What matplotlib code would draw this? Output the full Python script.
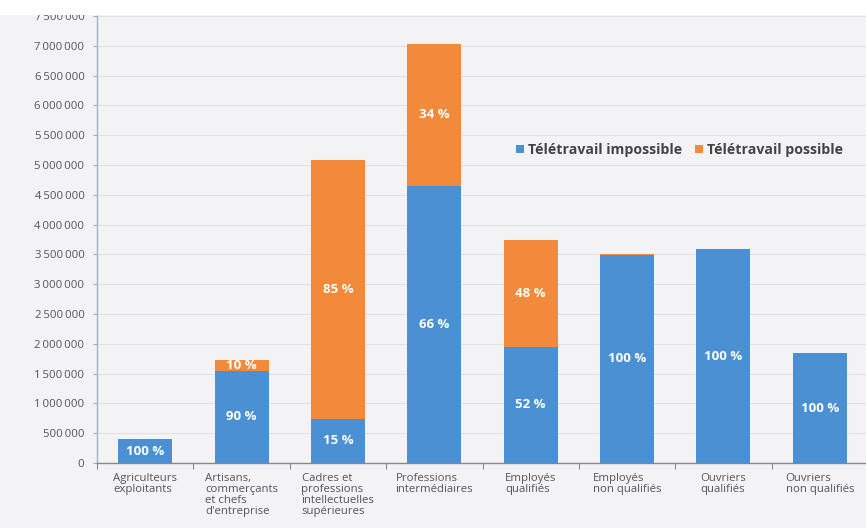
import matplotlib
matplotlib.use("Agg")
import matplotlib.pyplot as plt
from matplotlib.ticker import FuncFormatter
from matplotlib.patches import Rectangle
import numpy as np

plt.rcParams['font.family'] = ['Open Sans', 'DejaVu Sans']

categories = ["Agriculteurs\nexploitants",
              "Artisans,\ncommerçants\net chefs\nd'entreprise",
              "Cadres et\nprofessions\nintellectuelles\nsupérieures",
              "Professions\nintermédiaires",
              "Employés\nqualifiés",
              "Employés\nnon qualifiés",
              "Ouvriers\nqualifiés",
              "Ouvriers\nnon qualifiés"]
impossible = [400000, 1550000, 740000, 4650000, 1950000, 3490000, 3590000, 1840000]
possible = [0, 170000, 4340000, 2380000, 1800000, 20000, 0, 0]
pct_impossible = ["100 %", "90 %", "15 %", "66 %", "52 %", "100 %", "100 %", "100 %"]
pct_possible = [None, "10 %", "85 %", "34 %", "48 %", None, None, None]
series_names = ["Télétravail impossible", "Télétravail possible"]
yticks = list(range(0, 7500001, 500000))

BLUE = "#4a90d2"
ORANGE = "#f28a3b"
BG = "#f3f3f5"

W, H = 866, 528
fig = plt.figure(figsize=(W / 100, H / 100), dpi=100, facecolor=BG)
# white band at top (cut-off title area)
fig.patches.append(Rectangle((0, 1 - 15 / H), 1, 15 / H, transform=fig.transFigure,
                             facecolor="white", edgecolor="none", zorder=0))

ax = fig.add_axes([97 / W, 1 - 463 / H, (868 - 97) / W, (463 - 16) / H])
ax.set_facecolor(BG)

x = np.arange(len(categories))
bw = 0.56
b1 = ax.bar(x, impossible, bw, color=BLUE, label=series_names[0], zorder=3)
b2 = ax.bar(x, possible, bw, bottom=impossible, color=ORANGE, label=series_names[1], zorder=3)

for i in range(len(categories)):
    ax.text(x[i], impossible[i] / 2, pct_impossible[i], ha="center", va="center",
            color="white", fontsize=9.5, fontweight="bold", zorder=4)
    if pct_possible[i]:
        ax.text(x[i], impossible[i] + possible[i] / 2, pct_possible[i], ha="center",
                va="center", color="white", fontsize=9.5, fontweight="bold", zorder=4)

ax.set_ylim(0, 7500000)
ax.set_xlim(-0.5, len(categories) - 0.5)
ax.set_yticks(yticks)
ax.yaxis.set_major_formatter(FuncFormatter(lambda v, p: f"{int(v):,}".replace(",", "\u2009")))
ax.grid(axis="y", color="#e0e1e6", linewidth=0.8, zorder=0)
ax.tick_params(axis="y", labelsize=8.2, labelcolor="#555555", color="#9fb0c8", length=3, width=0.8, pad=6)

ax.set_xticks(x)
ax.set_xticklabels(categories, fontsize=8.2, color="#555555", linespacing=1.0,
                   multialignment="left")
ax.set_xticks(np.arange(len(categories) + 1) - 0.5, minor=True)
ax.tick_params(axis="x", which="major", length=0, pad=7)
ax.tick_params(axis="x", which="minor", length=4, color="#888888", width=0.8)

for s in ["top", "right"]:
    ax.spines[s].set_visible(False)
ax.spines["left"].set_color("#9fb0c8")
ax.spines["left"].set_linewidth(1.0)
ax.spines["bottom"].set_color("#888888")
ax.spines["bottom"].set_linewidth(1.0)

leg = ax.legend(loc="center left", bbox_to_anchor=(0.527, 0.70), ncol=2, frameon=False,
                handlelength=0.55, handleheight=0.55, handletextpad=0.3, columnspacing=0.9,
                prop={"size": 10.2, "weight": "bold"})
for t in leg.get_texts():
    t.set_color("#444444")

fig.savefig("out.png", dpi=100, facecolor=BG)
